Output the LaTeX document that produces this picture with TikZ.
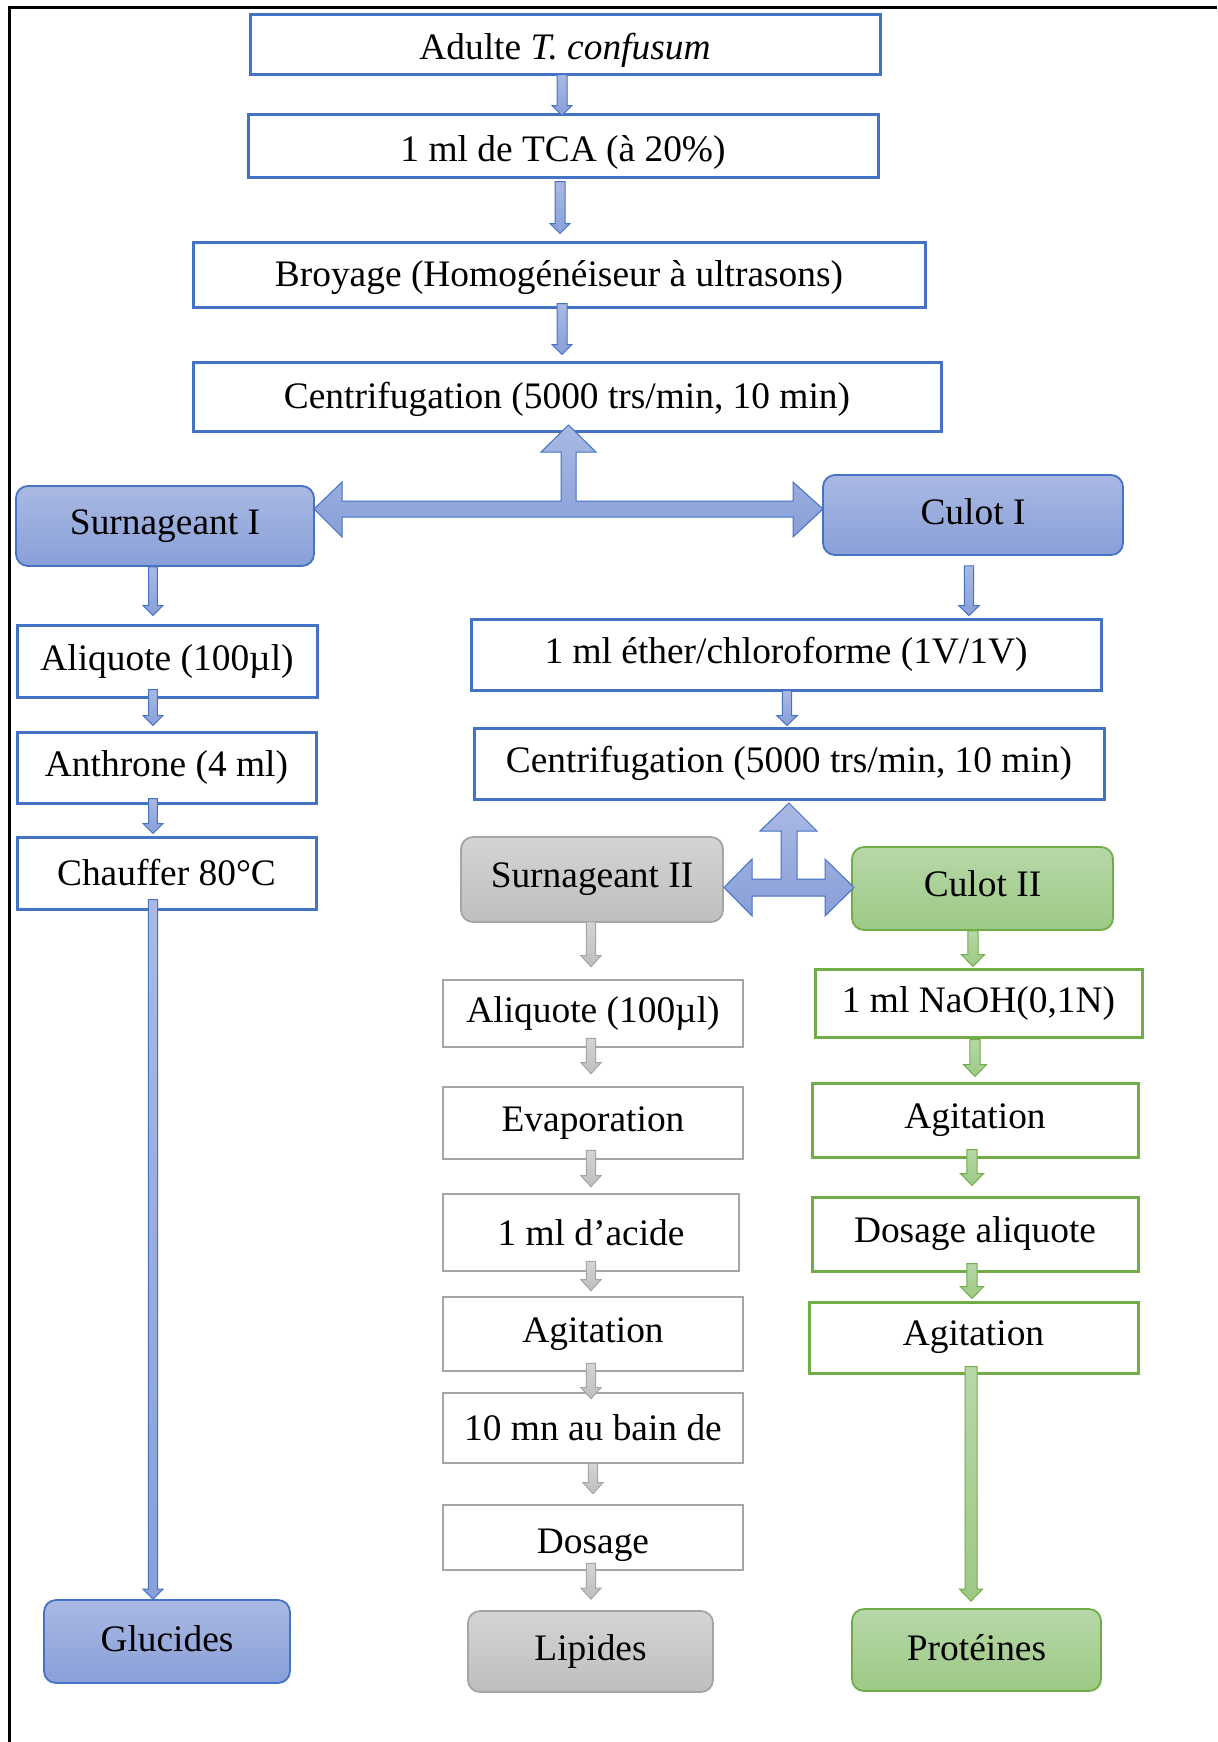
\documentclass[tikz,border=0pt]{standalone}
\usepackage{fontspec}
\setmainfont{Liberation Serif}
\usetikzlibrary{calc}
\definecolor{blueline}{RGB}{68,114,196}
\definecolor{bluetop}{RGB}{170,185,227}
\definecolor{bluebot}{RGB}{136,159,216}
\definecolor{grayline}{RGB}{165,165,165}
\definecolor{graytop}{RGB}{212,212,212}
\definecolor{graybot}{RGB}{190,190,190}
\definecolor{greenline}{RGB}{112,173,71}
\definecolor{greentop}{RGB}{183,215,168}
\definecolor{greenbot}{RGB}{157,201,133}
\newcommand\mainsize{\fontsize{18.7pt}{22pt}\selectfont}
% vertical block arrow: style, shaft half width, head half width, head length, start, end
\newcommand\varr[6]{\shade[#1] let \p1=#5, \p2=#6 in
  (\x1-#2,\y1) -- (\x1-#2,\y2+#4) -- (\x1-#3,\y2+#4) -- (\x1,\y2) --
  (\x1+#3,\y2+#4) -- (\x1+#2,\y2+#4) -- (\x1+#2,\y1) -- cycle;}
\tikzset{
  wh/.style 2 args={minimum width=#1*0.5pt, minimum height=#2*0.5pt},
  plainbox/.style={line width=1.5pt, fill=white, inner sep=0pt, font=\mainsize},
  bluebox/.style={plainbox, draw=blueline},
  graybox/.style={plainbox, draw=grayline, line width=1.3pt},
  greenbox/.style={plainbox, draw=greenline},
  fillbox/.style={rounded corners=6pt, line width=0.9pt, inner sep=0pt, font=\mainsize},
  bluefill/.style={fillbox, draw=blueline, top color=bluetop, bottom color=bluebot},
  grayfill/.style={fillbox, draw=grayline, top color=graytop, bottom color=graybot},
  greenfill/.style={fillbox, draw=greenline, top color=greentop, bottom color=greenbot},
  bluearr/.style={draw=blueline, line width=0.5pt, top color=bluetop, bottom color=bluebot},
  grayarr/.style={draw=grayline, line width=0.5pt, top color=graytop, bottom color=graybot},
  greenarr/.style={draw=greenline, line width=0.5pt, top color=greentop, bottom color=greenbot},
}
\begin{document}
\begin{tikzpicture}[x=0.5pt,y=-0.5pt]
\useasboundingbox (0,0) rectangle (1217,1742);
\fill[white] (0,0) rectangle (1217,1742);
% frame
\draw[line width=1.5pt] (9,1742) -- (9,7.5) -- (1217,7.5);

% column coordinates
\coordinate (colT) at (562,0);
\coordinate (colA) at (153,0);
\coordinate (colK) at (969,0);
\coordinate (colE) at (787,0);
\coordinate (colL) at (591,0);
\coordinate (colP) at (973,0);

% top chain
\node[bluebox, wh={630}{60}, text height=16pt, text depth=1pt] (b1) at (565,44) {Adulte \textit{T. confusum}};
\node[bluebox, wh={630}{63}, text height=16.5pt, text depth=1pt] (b2) at (563,145.5) {1 ml de TCA (à 20\%)};
\node[bluebox, wh={732}{65}, text height=14pt, text depth=1.9pt] (b3) at (559,274.5) {Broyage (Homogénéiseur à ultrasons)};
\node[bluebox, wh={748}{69}, text height=14pt, text depth=1.9pt] (b4) at (567,396.5) {Centrifugation (5000 trs/min, 10 min)};

\node[bluefill, wh={298}{80}] (s1) at (165,526) {Surnageant I};
\node[bluefill, wh={300}{80}, text height=12.4pt, text depth=3.4pt] (k1) at (973,515) {Culot I};

% left column
\node[bluebox, wh={300}{72}] (a1) at (167,661) {Aliquote (100µl)};
\node[bluebox, wh={299}{71}] (a2) at (166.5,767.5) {Anthrone (4 ml)};
\node[bluebox, wh={299}{72}] (a3) at (166.5,873) {Chauffer 80°C};
\node[bluefill, wh={246}{83}, text height=12.9pt, text depth=3.2pt] (gl) at (167,1641.5) {Glucides};

% right upper
\node[bluebox, wh={630}{71}] (e1) at (786,654.5) {1 ml éther/chloroforme (1V/1V)};
\node[bluebox, wh={630}{71}] (e2) at (789,763.5) {Centrifugation (5000 trs/min, 10 min)};
\node[grayfill, wh={262}{85}] (s2) at (592,879.5) {Surnageant II};
\node[greenfill, wh={261}{83}, text height=12.4pt, text depth=4pt] (k2) at (982.5,888.5) {Culot II};

% gray column
\node[graybox, wh={300}{67}] (l1) at (593,1013.5) {Aliquote (100µl)};
\node[graybox, wh={300}{72}] (l2) at (593,1123) {Evaporation};
\node[graybox, wh={296}{77}] (l3) at (591,1232.5) {1 ml d’acide};
\node[graybox, wh={300}{74}] (l4) at (593,1334) {Agitation};
\node[graybox, wh={300}{70}] (l5) at (593,1428) {10 mn au bain de};
\node[graybox, wh={300}{65}, text height=17pt, text depth=1.5pt] (l6) at (593,1537.5) {Dosage};
\node[grayfill, wh={245}{81}] (lp) at (590.5,1651.5) {Lipides};

% green column
\node[greenbox, wh={327}{68}] (p1) at (978.5,1003) {1 ml NaOH(0,1N)};
\node[greenbox, wh={326}{74}] (p2) at (975,1120) {Agitation};
\node[greenbox, wh={326}{74}] (p3) at (975,1234) {Dosage aliquote};
\node[greenbox, wh={329}{71}] (p4) at (973.5,1337.5) {Agitation};
\node[greenfill, wh={249}{82}, text height=13.5pt, text depth=3pt] (pr) at (976.5,1650) {Protéines};

% big arrows
\shade[bluearr] (314,509) -- (342,482) -- (342,501) -- (561,501) -- (561,452) -- (541,452)
  -- (568.5,425) -- (596,452) -- (576,452) -- (576,501) -- (793,501) -- (793,482)
  -- (823,509) -- (793,537) -- (793,517) -- (342,517) -- (342,537) -- cycle;
\shade[bluearr] (724,887.5) -- (752,859) -- (752,879) -- (781,879) -- (781,831) -- (760,831)
  -- (789,803) -- (817,831) -- (797,831) -- (797,879) -- (825,879) -- (825,859)
  -- (854,887.5) -- (825,916) -- (825,896) -- (752,896) -- (752,916) -- cycle;

% blue small arrows
\varr{bluearr}{2.5pt}{5pt}{5pt}{($(b1.south -| colT)+(0,-1)$)}{($(b2.north -| colT)+(0,3)$)}
\varr{bluearr}{2.5pt}{5pt}{5pt}{($(b2.south -| colT)+(-2,3)$)}{($(b3.north -| colT)+(0,-7)$)}
\varr{bluearr}{2.5pt}{5pt}{5pt}{($(b3.south -| colT)+(0,-5)$)}{($(b4.north -| colT)+(0,-6)$)}
\varr{bluearr}{2.2pt}{5pt}{5pt}{($(s1.south -| colA)+(0,0)$)}{($(a1.north -| colA)+(0,-8)$)}
\varr{bluearr}{2.2pt}{5pt}{5pt}{($(a1.south -| colA)+(0,-9)$)}{($(a2.north -| colA)+(0,-5)$)}
\varr{bluearr}{2.2pt}{5pt}{5pt}{($(a2.south -| colA)+(0,-6)$)}{($(a3.north -| colA)+(0,-2)$)}
\varr{bluearr}{2.3pt}{5pt}{5pt}{($(a3.south -| colA)+(0,-11)$)}{($(gl.north -| colA)+(0,0)$)}
\varr{bluearr}{2.3pt}{5.2pt}{5pt}{($(k1.south -| colK)+(0,10)$)}{($(e1.north -| colK)+(0,-2)$)}
\varr{bluearr}{2.3pt}{5.2pt}{5pt}{($(e1.south -| colE)+(0,-1)$)}{($(e2.north -| colE)+(0,-1)$)}

% gray arrows
\varr{grayarr}{2.3pt}{5pt}{5.5pt}{($(s2.south -| colL)+(0,-1)$)}{($(l1.north -| colL)+(0,-12)$)}
\varr{grayarr}{2.3pt}{5pt}{5.5pt}{($(l1.south -| colL)+(0,-10)$)}{($(l2.north -| colL)+(0,-12)$)}
\varr{grayarr}{2.3pt}{5pt}{5.5pt}{($(l2.south -| colL)+(0,-10)$)}{($(l3.north -| colL)+(0,-6)$)}
\varr{grayarr}{2.3pt}{5pt}{5.5pt}{($(l3.south -| colL)+(0,-11)$)}{($(l4.north -| colL)+(0,-5)$)}
\varr{grayarr}{2.3pt}{5pt}{5.5pt}{($(l4.south -| colL)+(0,-9)$)}{($(l5.north -| colL)+(0,7)$)}
\varr{grayarr}{2.3pt}{5pt}{5.5pt}{($(l5.south -| colL)+(2,-1)$)}{($(l6.north -| colL)+(0,-10)$)}
\varr{grayarr}{2.3pt}{5pt}{5.5pt}{($(l6.south -| colL)+(0,-8)$)}{($(lp.north -| colL)+(0,-11)$)}

% green arrows
\varr{greenarr}{2.6pt}{5.8pt}{6pt}{($(k2.south -| colP)+(0,0)$)}{($(p1.north -| colP)+(0,-1)$)}
\varr{greenarr}{2.6pt}{5.8pt}{6pt}{($(p1.south -| colP)+(2,1)$)}{($(p2.north -| colP)+(0,-5)$)}
\varr{greenarr}{2.6pt}{5.8pt}{6pt}{($(p2.south -| colP)+(-1,-9)$)}{($(p3.north -| colP)+(0,-10)$)}
\varr{greenarr}{2.6pt}{5.8pt}{6pt}{($(p3.south -| colP)+(-1,-9)$)}{($(p4.north -| colP)+(0,-2)$)}
\varr{greenarr}{3pt}{5.8pt}{6pt}{($(p4.south -| colP)+(-2,-8)$)}{($(pr.north -| colP)+(0,-7)$)}
\end{tikzpicture}
\end{document}
